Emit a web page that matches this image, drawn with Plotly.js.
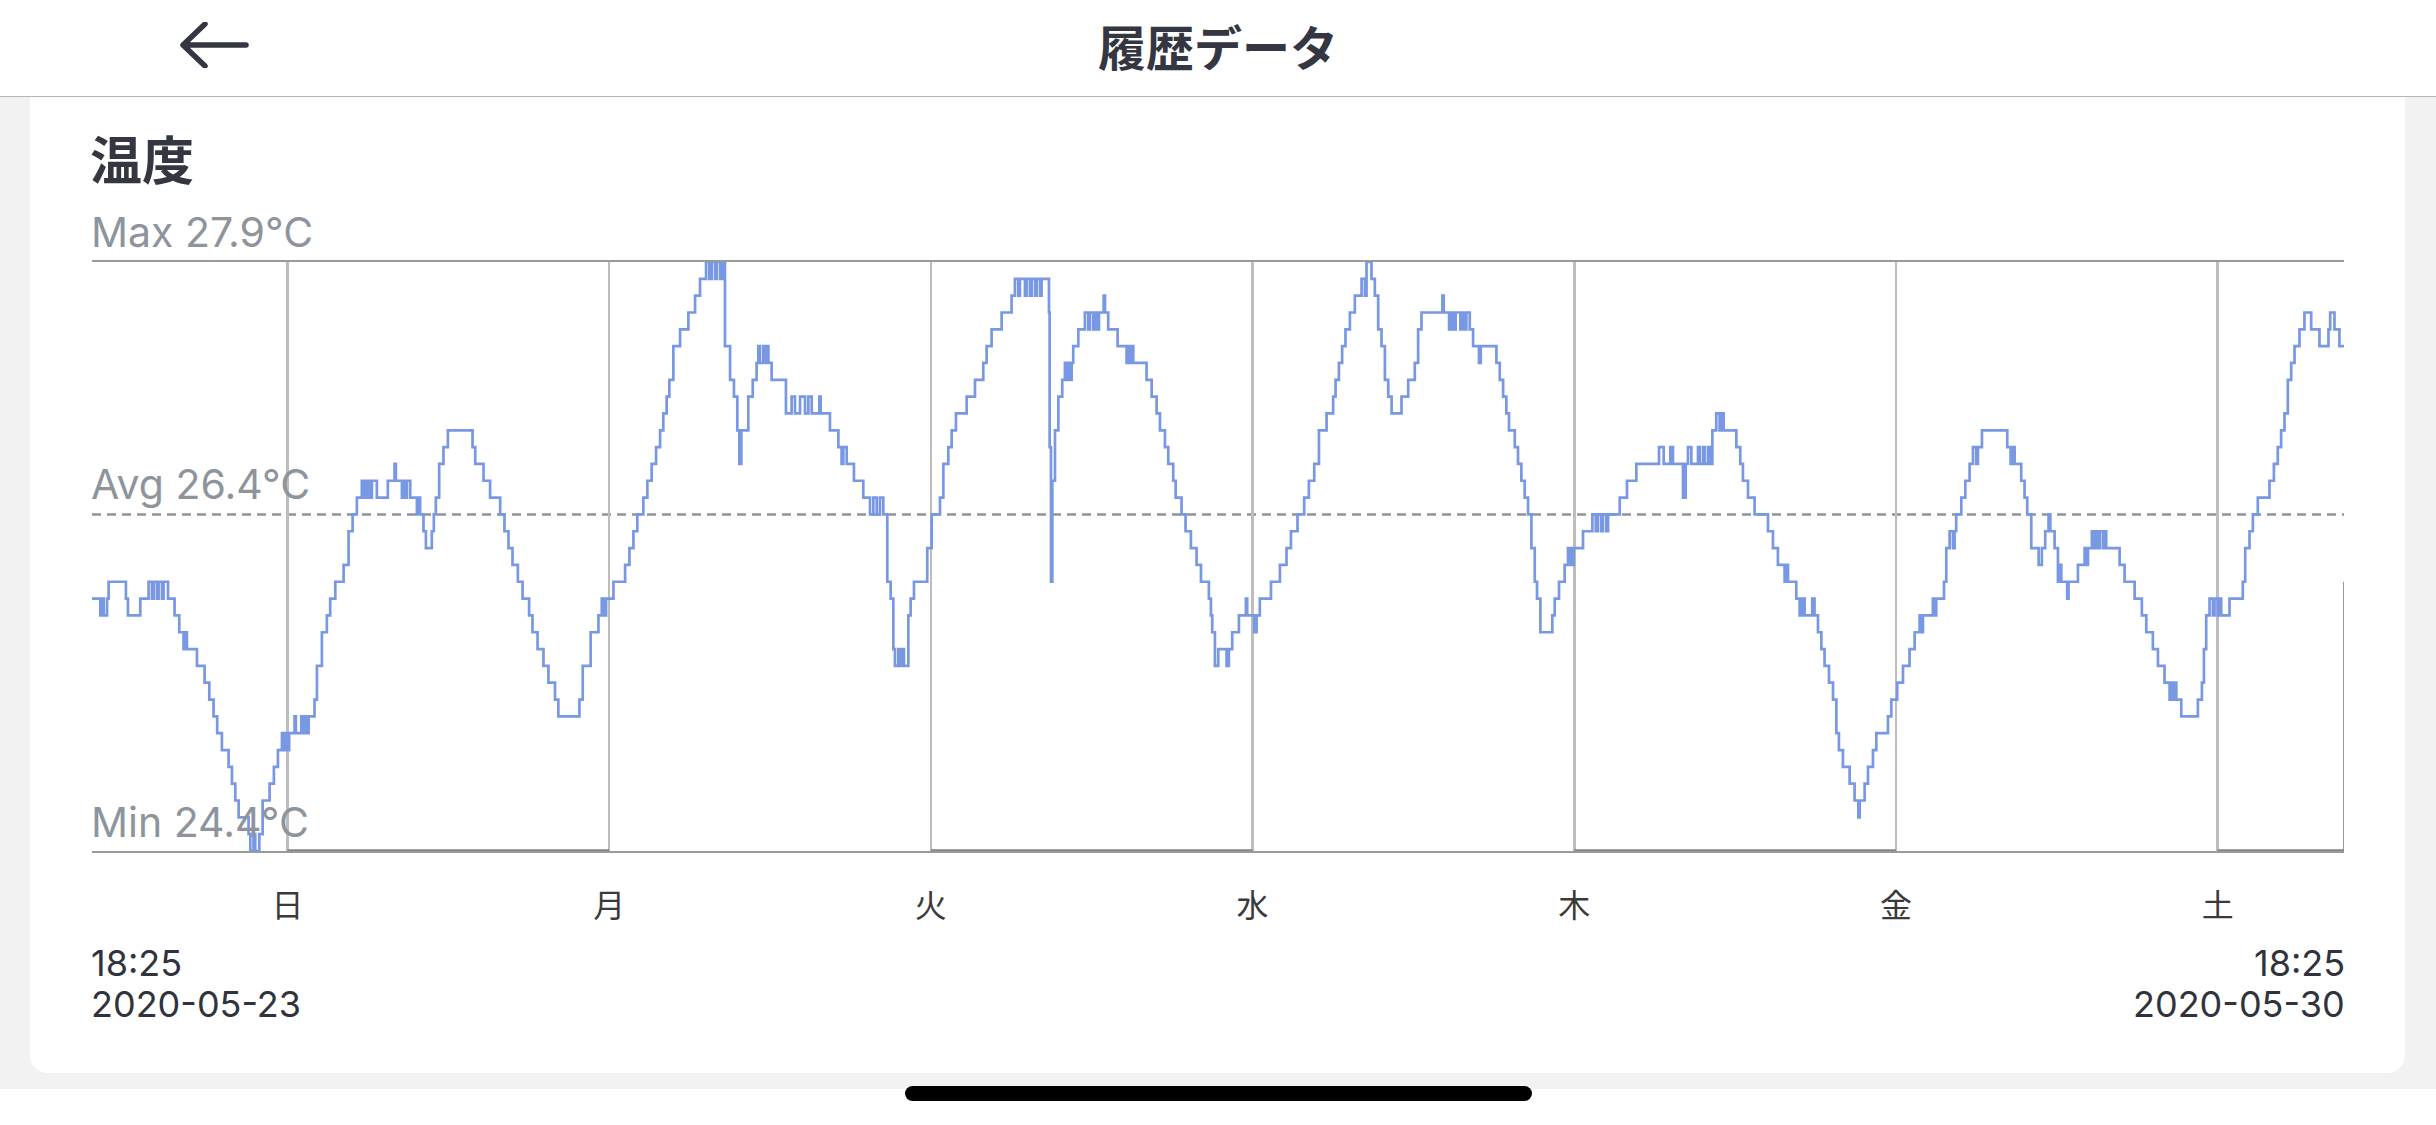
<!DOCTYPE html>
<html>
<head>
<meta charset="utf-8">
<script src="https://cdn.plot.ly/plotly-3.0.1.min.js"></script>
<style>
html,body{margin:0;padding:0;width:2436px;height:1125px;overflow:hidden;background:#ffffff;font-family:Inter,"Noto Sans CJK JP",sans-serif;}
#header{position:absolute;left:0;top:0;width:2436px;height:96px;background:#ffffff;border-bottom:1.5px solid #b5b5b5;}
#title{position:absolute;left:0;top:0;width:2436px;height:90px;line-height:90px;text-align:center;font-family:"Noto Sans CJK JP",sans-serif;font-weight:700;font-size:48px;color:#343741;}
#back{position:absolute;left:180px;top:22px;}
#bg{position:absolute;left:0;top:97px;width:2436px;height:992px;background:#f2f2f2;}
#card{position:absolute;left:30px;top:97px;width:2375px;height:976px;background:#ffffff;border-radius:0 0 18px 18px;}
#section{position:absolute;left:90px;top:130px;font-family:"Noto Sans CJK JP",sans-serif;font-weight:700;font-size:52px;line-height:56px;color:#343741;}
#chart{position:absolute;left:0;top:0;width:2436px;height:1125px;}
#home{position:absolute;left:905px;top:1086px;width:627px;height:15px;background:#000000;border-radius:8px;}
</style>
</head>
<body>
<div id="bg"></div>
<div id="card"></div>
<div id="header">
  <svg id="back" width="70" height="46" viewBox="0 0 70 46">
    <path d="M66 23 H4 M25 2 L3 23 L25 44" fill="none" stroke="#343741" stroke-width="5.5" stroke-linecap="round" stroke-linejoin="round"/>
  </svg>
  <div id="title">履歴データ</div>
</div>
<div id="section">温度</div>
<div id="chart"></div>
<div id="home"></div>
<script>
// ---- data (hours since 2020-05-23 18:25, temperature °C) ----
const hours = [
0.00,0.62,0.74,0.87,1.12,1.24,2.53,2.68,
3.60,4.22,4.47,4.60,4.84,4.97,5.22,5.34,
5.67,6.16,6.51,6.83,6.96,7.08,7.83,8.40,
8.75,9.07,9.34,9.69,10.19,10.44,10.69,10.94,
11.68,11.81,12.05,12.18,12.48,12.73,13.25,13.57,
13.87,14.17,14.29,14.42,14.54,14.71,15.11,15.21,
15.61,15.71,15.86,15.96,16.16,16.60,16.78,17.15,
17.52,17.77,18.15,18.77,19.14,19.44,19.76,20.13,
20.26,20.38,20.51,20.63,20.76,20.88,21.25,22.07,
22.57,22.67,23.12,23.24,23.42,23.49,23.74,24.24,
24.36,24.48,24.73,24.91,25.35,25.50,25.65,25.90,
26.22,26.55,28.39,28.59,29.21,29.70,30.45,30.77,
31.07,31.37,31.77,32.12,32.61,32.86,33.24,33.68,
34.05,34.54,34.79,36.36,36.61,37.20,37.78,38.03,
38.15,38.35,38.90,39.77,40.09,40.39,40.68,41.13,
41.43,41.75,42.08,42.38,42.62,42.87,43.07,43.37,
43.87,44.49,44.99,45.36,45.81,46.05,46.23,46.48,
46.60,46.85,47.05,47.22,47.60,47.89,48.14,48.29,
48.44,48.96,49.29,49.58,49.71,49.83,50.08,50.21,
50.33,50.46,50.70,51.77,52.19,52.44,52.82,53.19,
53.44,53.69,54.26,54.36,55.05,55.68,55.92,56.05,
56.30,56.84,57.54,58.04,58.29,58.54,58.78,59.03,
59.33,59.58,59.78,59.90,60.15,60.27,60.47,60.57,
60.90,61.07,61.32,62.31,62.64,63.26,63.51,63.88,
64.13,64.45,65.25,65.87,66.49,66.74,67.11,67.86,
68.60,68.85,69.10,69.22,69.60,69.72,69.97,70.10,
70.35,70.47,70.72,70.84,71.39,71.44,71.54,71.64,
71.84,72.09,72.38,72.58,72.71,72.83,72.96,73.08,
73.20,73.58,74.07,74.32,74.45,74.70,74.82,75.02,
75.12,75.47,75.57,75.81,76.51,77.18,77.31,77.43,
77.55,77.68,78.67,79.05,79.42,79.67,80.04,80.29,
80.66,80.84,81.28,81.58,81.98,82.40,82.73,83.32,
83.47,83.57,83.77,84.02,84.64,84.81,85.06,85.56,
86.08,86.18,86.70,86.88,87.12,87.95,88.62,89.11,
89.44,89.93,90.43,90.78,91.18,91.53,92.10,92.59,
92.77,93.02,93.26,93.51,93.84,94.21,94.71,94.96,
95.08,95.45,95.70,95.95,96.20,96.45,96.70,96.95,
97.69,98.19,98.68,98.93,99.18,100.74,100.84,101.24,
101.41,101.54,101.73,102.08,102.23,102.41,102.53,102.78,
103.03,103.47,103.60,104.77,105.02,105.27,105.51,105.71,
106.14,106.38,106.63,106.88,107.13,107.38,107.63,107.80,
108.05,108.94,109.12,109.44,109.86,110.11,110.24,110.36,
110.44,110.54,111.23,111.93,112.18,112.35,112.60,112.72,
112.97,113.10,113.97,114.51,115.21,116.90,117.25,117.74,
117.94,118.69,118.89,119.06,119.31,119.81,119.93,120.18,
120.30,120.55,120.68,120.88,121.17,121.42,121.55,121.72,
122.67,122.96,123.16,123.54,124.03,125.03,125.40,125.77,
126.27,126.39,126.52,127.14,127.39,127.59,127.76,128.33,
128.50,128.76,129.01,129.25,129.58,129.88,130.13,130.32,
130.62,131.12,131.49,131.77,131.87,132.24,132.49,132.86,
133.11,133.98,134.23,134.67,135.10,135.59,135.97,136.34,
136.46,136.59,137.33,137.46,137.58,138.16,138.33,138.58,
138.83,138.95,139.07,139.45,139.75,140.07,140.32,140.57,
140.69,140.99,142.88,143.13,143.30,143.43,143.92,144.17,
144.37,144.67,145.22,145.46,145.71,145.96,146.09,146.41,
146.66,146.78,146.91,147.35,147.45,148.15,148.65,148.77,
148.90,149.19,149.39,149.52,149.64,149.77,150.01,150.14,
150.26,151.26,151.63,152.38,152.92,153.25,153.74,154.12,
154.61,154.99,155.11,155.24,155.36,155.49,155.86,157.10,
157.40,157.55,157.72,157.97,158.22,158.34,158.59,158.72,
158.84,159.46,160.45,160.63,160.95,161.20,161.57,162.44,
162.77,163.06,163.31,163.56,163.81,164.06,164.31,164.68,
165.05,165.55,166.17,166.84,166.97,167.29,167.66,168.00
];
const temps = [
25.9,25.8,25.9,25.8,25.9,26.0,25.9,25.8,
25.9,26.0,25.9,26.0,25.9,26.0,25.9,26.0,
25.9,25.8,25.7,25.6,25.7,25.6,25.5,25.4,
25.3,25.2,25.1,25.0,24.9,24.8,24.7,24.6,
24.5,24.4,24.5,24.4,24.5,24.7,24.8,24.9,
25.0,25.1,25.0,25.1,25.0,25.1,25.2,25.1,
25.2,25.1,25.2,25.1,25.2,25.3,25.5,25.7,
25.8,25.9,26.0,26.1,26.3,26.4,26.5,26.6,
26.5,26.6,26.5,26.6,26.5,26.6,26.5,26.6,
26.7,26.6,26.5,26.6,26.5,26.6,26.5,26.4,
26.5,26.4,26.3,26.2,26.3,26.4,26.5,26.7,
26.8,26.9,26.8,26.7,26.6,26.5,26.4,26.3,
26.2,26.1,26.0,25.9,25.8,25.7,25.6,25.5,
25.4,25.3,25.2,25.3,25.5,25.7,25.8,25.9,
25.8,25.9,26.0,26.1,26.2,26.3,26.4,26.5,
26.6,26.7,26.8,26.9,27.0,27.1,27.2,27.4,
27.5,27.6,27.7,27.8,27.9,27.8,27.9,27.8,
27.9,27.8,27.9,27.4,27.2,27.1,26.9,26.7,
26.9,27.1,27.2,27.3,27.4,27.3,27.4,27.3,
27.4,27.3,27.2,27.0,27.1,27.0,27.1,27.0,
27.1,27.0,27.1,27.0,26.9,26.8,26.7,26.8,
26.7,26.6,26.5,26.4,26.5,26.4,26.5,26.4,
26.0,25.9,25.6,25.5,25.6,25.5,25.6,25.5,
25.8,25.9,26.0,26.2,26.4,26.5,26.7,26.8,
26.9,27.0,27.1,27.2,27.3,27.4,27.5,27.6,
27.7,27.8,27.7,27.8,27.7,27.8,27.7,27.8,
27.7,27.8,27.7,27.8,27.6,26.8,26.0,26.6,
26.9,27.1,27.2,27.3,27.2,27.3,27.2,27.3,
27.4,27.5,27.6,27.5,27.6,27.5,27.6,27.5,
27.6,27.7,27.6,27.5,27.4,27.3,27.4,27.3,
27.4,27.3,27.2,27.1,27.0,26.9,26.8,26.7,
26.6,26.5,26.4,26.3,26.2,26.1,26.0,25.9,
25.8,25.7,25.5,25.6,25.5,25.6,25.7,25.8,
25.9,25.8,25.7,25.8,25.9,26.0,26.1,26.2,
26.3,26.4,26.5,26.6,26.7,26.9,27.0,27.1,
27.2,27.3,27.4,27.5,27.6,27.7,27.8,27.7,
27.9,27.8,27.7,27.5,27.4,27.2,27.1,27.0,
27.1,27.2,27.3,27.5,27.6,27.7,27.6,27.5,
27.6,27.5,27.6,27.5,27.6,27.5,27.6,27.5,
27.4,27.3,27.4,27.3,27.2,27.1,27.0,26.9,
26.8,26.7,26.6,26.5,26.4,26.2,26.0,25.9,
25.7,25.8,25.9,26.0,26.1,26.2,26.1,26.2,
26.1,26.2,26.3,26.4,26.3,26.4,26.3,26.4,
26.3,26.4,26.5,26.6,26.7,26.8,26.7,26.8,
26.7,26.5,26.7,26.8,26.7,26.8,26.7,26.8,
26.7,26.8,26.7,26.9,27.0,26.9,27.0,26.9,
26.8,26.7,26.6,26.5,26.4,26.3,26.2,26.1,
26.0,26.1,26.0,25.9,25.8,25.9,25.8,25.9,
25.8,25.7,25.6,25.5,25.4,25.3,25.1,25.0,
24.9,24.8,24.7,24.6,24.7,24.8,24.9,25.0,
25.1,25.2,25.3,25.4,25.5,25.6,25.7,25.8,
25.7,25.8,25.9,25.8,25.9,26.0,26.2,26.3,
26.2,26.3,26.4,26.5,26.6,26.7,26.8,26.7,
26.8,26.9,26.8,26.7,26.8,26.7,26.6,26.5,
26.4,26.2,26.1,26.2,26.3,26.4,26.3,26.2,
26.0,26.1,26.0,25.9,26.0,26.1,26.2,26.1,
26.2,26.3,26.2,26.3,26.2,26.3,26.2,26.3,
26.2,26.1,26.0,25.9,25.8,25.7,25.6,25.5,
25.4,25.3,25.4,25.3,25.4,25.3,25.2,25.3,
25.4,25.6,25.8,25.9,25.8,25.9,25.8,25.9,
25.8,25.9,26.0,26.2,26.3,26.4,26.5,26.6,
26.7,26.8,26.9,27.0,27.2,27.3,27.4,27.5,
27.6,27.5,27.4,27.5,27.6,27.5,27.4,27.4
];
const dayLabels = ['日','月','火','水','木','金','土'];
const dayTickHours = [14.58, 38.58, 62.58, 86.58, 110.58, 134.58, 158.58];
const totalHours = 168;
const maxTemp = 27.9;
const avgTemp = 26.4;
const minTemp = 24.4;
const lastBarTemp = 26.0;
const startLabels = ['18:25', '2020-05-23'];
const endLabels = ['18:25', '2020-05-30'];

// ---- styles ----
const LATIN = 'Inter, "Noto Sans CJK JP", sans-serif';
const CJK = '"Noto Sans CJK JP", sans-serif';
const GREY_TEXT = '#8e949c';
const DARK_TEXT = '#30333c';

const shapes = [
  {type:'line', layer:'between', xref:'paper', x0:0, x1:1, yref:'y', y0:avgTemp, y1:avgTemp,
   line:{color:'#8e949c', width:2.5, dash:'9px,6px'}},
  {type:'line', layer:'above', xref:'x', x0:totalHours, x1:totalHours, yref:'y', y0:minTemp, y1:lastBarTemp,
   line:{color:'#9a9a9a', width:2}}
];
for (let i = 0; i < dayTickHours.length; i += 2) {
  const x1 = (i + 1 < dayTickHours.length) ? dayTickHours[i + 1] : totalHours;
  shapes.push({type:'line', layer:'above', xref:'x', x0:dayTickHours[i], x1:x1, yref:'y', y0:minTemp, y1:minTemp,
    line:{color:'#858585', width:3.5}});
}

const statAnn = (label, v, shift) => ({
  text: label + ' ' + v.toFixed(1) + '°C', xref:'paper', x:0, xanchor:'left', xshift:-3,
  yref:'y', y:v, yanchor:'bottom', yshift:shift, showarrow:false,
  font:{family:LATIN, size:41, color:GREY_TEXT}
});
const dateAnn = (txt, side, shift) => ({
  text: txt, xref:'paper', x:side, xanchor: side === 0 ? 'left' : 'right', xshift: side === 0 ? -3 : 3,
  yref:'paper', y:0, yanchor:'top', yshift:shift, showarrow:false,
  font:{family:LATIN, size:36, color:DARK_TEXT}
});

const annotations = [
  statAnn('Max', maxTemp, 3),
  statAnn('Avg', avgTemp, 3),
  statAnn('Min', minTemp, 2),
  dateAnn(startLabels[0], 0, -88),
  dateAnn(startLabels[1], 0, -129),
  dateAnn(endLabels[0], 1, -88),
  dateAnn(endLabels[1], 1, -129)
];

const trace = {
  x: hours, y: temps, type:'scatter', mode:'lines',
  line:{color:'#7898e4', width:2.7, shape:'hv'},
  hoverinfo:'skip'
};

const layout = {
  width:2436, height:1125,
  margin:{l:92, r:92, t:262, b:274, pad:0},
  paper_bgcolor:'rgba(0,0,0,0)', plot_bgcolor:'rgba(0,0,0,0)',
  showlegend:false,
  font:{family:LATIN},
  xaxis:{
    range:[0, totalHours], tickmode:'array', tickvals:dayTickHours, ticktext:dayLabels,
    showgrid:true, gridcolor:'#bdbdbd', gridwidth:2.5, zeroline:false,
    showline:true, linecolor:'#9a9a9a', linewidth:2, mirror:true,
    ticks:'outside', ticklen:26, tickcolor:'rgba(0,0,0,0)',
    tickfont:{family:CJK, size:32, color:'#3a3a3a'}, fixedrange:true
  },
  yaxis:{
    range:[minTemp, maxTemp], showgrid:false, zeroline:false, showticklabels:false,
    showline:false, ticks:'', fixedrange:true
  },
  shapes: shapes,
  annotations: annotations
};

Plotly.newPlot('chart', [trace], layout, {displayModeBar:false, staticPlot:true});
</script>
</body>
</html>
